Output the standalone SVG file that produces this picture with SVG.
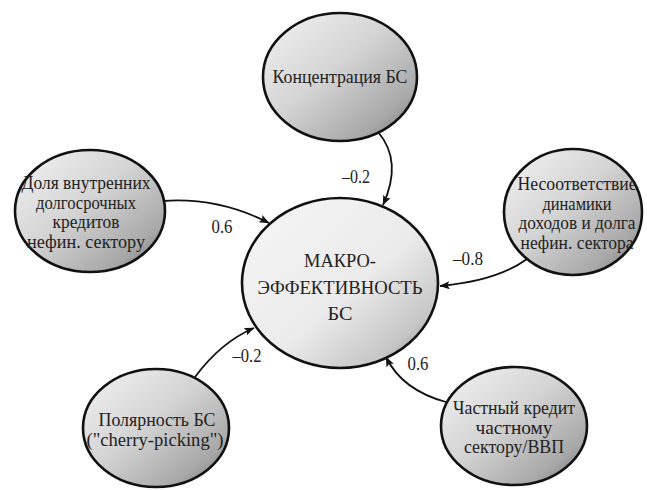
<svg xmlns="http://www.w3.org/2000/svg" width="647" height="490" viewBox="0 0 647 490">
<defs>
<linearGradient id="gOuter" x1="0" y1="0" x2="1" y2="1">
<stop offset="0" stop-color="#f4f4f4"/>
<stop offset="0.45" stop-color="#d4d4d4"/>
<stop offset="0.8" stop-color="#a8a8a8"/>
<stop offset="1" stop-color="#6a6a6a"/>
</linearGradient>
<linearGradient id="gCenter" x1="0" y1="0" x2="1" y2="1">
<stop offset="0" stop-color="#f6f6f6"/>
<stop offset="0.55" stop-color="#ebebeb"/>
<stop offset="0.82" stop-color="#c6c6c6"/>
<stop offset="1" stop-color="#777777"/>
</linearGradient>
<marker id="arr" viewBox="0 0 10 8" refX="9.5" refY="4" markerWidth="10" markerHeight="8" markerUnits="userSpaceOnUse" orient="auto">
<path d="M0,0 L10,4 L0,8 L2,4 Z" fill="#111"/>
</marker>
</defs>
<style>
.node{stroke:#111;stroke-width:2.6}
.outer{fill:url(#gOuter)}
.center{fill:url(#gCenter)}
text{font-family:'Liberation Serif','Tinos','Times New Roman','Noto Serif','DejaVu Serif','FreeSerif',serif;font-size:19px;fill:#222;text-anchor:middle}
.edge{fill:none;stroke:#111;stroke-width:1.8;marker-end:url(#arr)}
</style>
<g id="connectors">
<path class="edge" d="M378,132 Q403,161 383,205"/>
<path class="edge" d="M163,201 Q218,197 269,223"/>
<path class="edge" d="M527,259 Q497,281 440,286"/>
<path class="edge" d="M195,377 Q221,342 254,328"/>
<path class="edge" d="M446,402 Q402,390 386,357"/>
<text x="356" y="183" textLength="28" lengthAdjust="spacingAndGlyphs">–0.2</text>
<text x="222" y="233" textLength="21" lengthAdjust="spacingAndGlyphs">0.6</text>
<text x="468" y="265" textLength="30" lengthAdjust="spacingAndGlyphs">–0.8</text>
<text x="247" y="362" textLength="29" lengthAdjust="spacingAndGlyphs">–0.2</text>
<text x="418" y="370" textLength="21" lengthAdjust="spacingAndGlyphs">0.6</text>
</g>
<g id="center">
<ellipse class="node center" cx="340" cy="283" rx="98" ry="85"/>
<text x="340" y="267" textLength="72" lengthAdjust="spacingAndGlyphs">МАКРО-</text>
<text x="340" y="294" textLength="165" lengthAdjust="spacingAndGlyphs">ЭФФЕКТИВНОСТЬ</text>
<text x="340" y="320" textLength="25" lengthAdjust="spacingAndGlyphs">БС</text>
</g>
<g id="n-concentration">
<ellipse class="node outer" cx="340" cy="77" rx="77" ry="64"/>
<text x="340" y="83" textLength="135" lengthAdjust="spacingAndGlyphs">Концентрация БС</text>
</g>
<g id="n-share">
<ellipse class="node outer" cx="90" cy="211" rx="75" ry="61"/>
<text x="86" y="189" textLength="129" lengthAdjust="spacingAndGlyphs">Доля внутренних</text>
<text x="86" y="208.5" textLength="100" lengthAdjust="spacingAndGlyphs">долгосрочных</text>
<text x="86" y="228" textLength="67" lengthAdjust="spacingAndGlyphs">кредитов</text>
<text x="86" y="247.5" textLength="118" lengthAdjust="spacingAndGlyphs">нефин. сектору</text>
</g>
<g id="n-mismatch">
<ellipse class="node outer" cx="573" cy="212" rx="69" ry="63"/>
<text x="577" y="190" textLength="119" lengthAdjust="spacingAndGlyphs">Несоответствие</text>
<text x="577" y="209.5" textLength="69" lengthAdjust="spacingAndGlyphs">динамики</text>
<text x="577" y="229" textLength="117" lengthAdjust="spacingAndGlyphs">доходов и долга</text>
<text x="577" y="248.5" textLength="113" lengthAdjust="spacingAndGlyphs">нефин. сектора</text>
</g>
<g id="n-polarity">
<ellipse class="node outer" cx="156" cy="428" rx="73" ry="59"/>
<text x="157" y="426" textLength="117" lengthAdjust="spacingAndGlyphs">Полярность БС</text>
<text x="155" y="445.5" textLength="137" lengthAdjust="spacingAndGlyphs">("cherry-picking")</text>
</g>
<g id="n-private">
<ellipse class="node outer" cx="514" cy="426" rx="73" ry="59"/>
<text x="514" y="414" textLength="122" lengthAdjust="spacingAndGlyphs">Частный кредит</text>
<text x="514" y="433.5" textLength="77" lengthAdjust="spacingAndGlyphs">частному</text>
<text x="514" y="453" textLength="100" lengthAdjust="spacingAndGlyphs">сектору/ВВП</text>
</g>
</svg>
